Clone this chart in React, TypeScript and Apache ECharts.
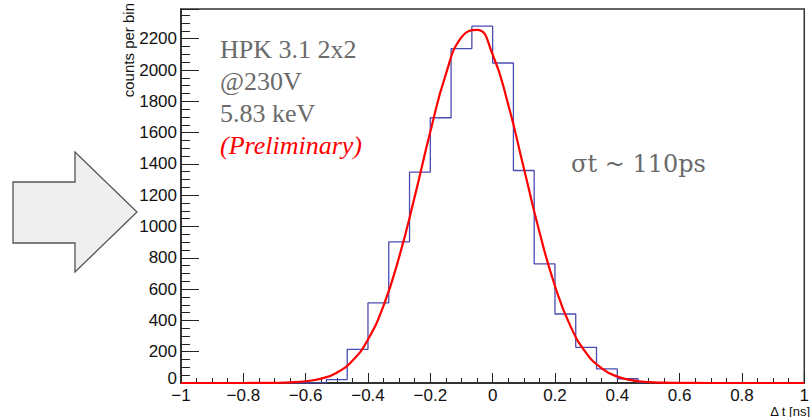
import React, { useEffect, useRef } from "react";
import * as echarts from "echarts";

// Histogram: 30 bins over [-1, 1]
const binMin = -1;
const binMax = 1;
const binCounts = [
  0, 0, 0, 0, 0, 0, 2, 22, 215, 512, 902, 1347, 1695, 2137, 2280,
  2045, 1358, 761, 441, 228, 90, 27, 2, 0, 0, 0, 0, 0, 0, 0,
];

// Fitted curve points
const curveX = [
  -1, -0.9, -0.8, -0.75, -0.7, -0.65, -0.6, -0.55, -0.5, -0.45, -0.4, -0.35,
  -0.3, -0.25, -0.2, -0.15, -0.1, -0.05, 0, 0.05, 0.1, 0.15, 0.2, 0.25, 0.3,
  0.35, 0.4, 0.45, 0.5, 0.55, 0.6, 0.7, 0.8, 0.9, 1,
];
const curveY = [
  0, 0, 0.1, 0.4, 1.2, 3.8, 11, 28, 66, 142, 278, 495, 805, 1191, 1606, 1974,
  2211, 2257, 2099, 1779, 1374, 967, 620, 362, 193, 94, 41, 17, 6, 2, 0.6, 0.1,
  0, 0, 0,
];

const yMax = 2390;
const infoLines = ["HPK 3.1 2x2", "@230V", "5.83 keV"];
const prelimText = "(Preliminary)";
const sigmaText = "σt ~ 110ps";
const yTitle = "counts per bin";
const xTitle = "Δ t [ns]";

export default function App() {
  const ref = useRef<HTMLDivElement>(null);
  useEffect(() => {
    if (!ref.current) return;
    const chart = echarts.init(ref.current, null, { renderer: "svg" });
    const n = binCounts.length;
    const w = (binMax - binMin) / n;
    const histData: number[][] = binCounts.map((c, i) => [binMin + i * w, c]);
    histData.push([binMax, binCounts[n - 1]]);
    const curveData = curveX.map((x, i) => [x, curveY[i]]);
    const fmtX = (v: number) => {
      const s = String(parseFloat(Math.abs(v).toFixed(1)));
      return v < -1e-9 ? "\u2212" + s : s;
    };
    const serif = "Liberation Serif";
    chart.setOption({
      animation: false,
      grid: {
        left: 181,
        right: 4,
        top: 9,
        bottom: 34,
        show: true,
        borderColor: "#333",
        borderWidth: 1.5,
      },
      xAxis: {
        type: "value",
        min: -1,
        max: 1,
        interval: 0.2,
        axisLine: { onZero: false, lineStyle: { color: "#222", width: 1.5 } },
        axisTick: { inside: true, length: 10, lineStyle: { color: "#222" } },
        minorTick: { show: true, splitNumber: 4, length: 5, lineStyle: { color: "#222" } },
        splitLine: { show: false },
        axisLabel: {
          formatter: fmtX,
          fontFamily: "Liberation Sans",
          fontSize: 17,
          color: "#111",
          margin: 4,
        },
      },
      yAxis: {
        type: "value",
        min: 0,
        max: yMax,
        interval: 200,
        axisLine: { show: true, onZero: false, lineStyle: { color: "#222", width: 1.5 } },
        axisTick: { inside: true, length: 18, lineStyle: { color: "#222" } },
        minorTick: { show: true, splitNumber: 4, length: 9, lineStyle: { color: "#222" } },
        splitLine: { show: false },
        axisLabel: {
          formatter: (v: number) => String(v),
          fontFamily: "Liberation Sans",
          fontSize: 17,
          lineHeight: 10,
          verticalAlignMinLabel: "bottom",
          color: "#111",
          margin: 4,
          showMaxLabel: false,
        },
      },
      series: [
        {
          type: "line",
          step: "end",
          data: histData,
          showSymbol: false,
          lineStyle: { color: "#4b4bb4", width: 1.3 },
          z: 2,
        },
        {
          type: "line",
          smooth: true,
          data: curveData,
          showSymbol: false,
          lineStyle: { color: "#ff0000", width: 2.2 },
          z: 3,
        },
      ],
      graphic: [
        {
          type: "polygon",
          shape: {
            points: [
              [13, 182],
              [75, 182],
              [75, 152],
              [137, 212],
              [75, 272],
              [75, 243],
              [13, 243],
            ],
          },
          style: { fill: "#efefef", stroke: "#555", lineWidth: 1.3 },
        },
        ...infoLines.map((t, i) => ({
          type: "text",
          x: 220,
          y: 49.5 + i * 32,
          style: {
            text: t,
            fontFamily: serif,
            fontSize: 26,
            fill: "#6a6a6a",
            align: "left",
            verticalAlign: "middle",
          },
        })),
        {
          type: "text",
          x: 220,
          y: 145,
          style: {
            text: prelimText,
            fontFamily: serif,
            fontSize: 26,
            fontStyle: "italic",
            fill: "#ff0000",
            align: "left",
            verticalAlign: "middle",
          },
        },
        {
          type: "text",
          x: 571,
          y: 164,
          style: {
            text: sigmaText,
            fontFamily: "DejaVu Serif",
            fontSize: 24,
            fill: "#6a6a6a",
            align: "left",
            verticalAlign: "middle",
          },
        },
        {
          type: "text",
          x: 128,
          y: 3,
          rotation: Math.PI / 2,
          style: {
            text: yTitle,
            fontFamily: "Liberation Sans",
            fontSize: 15,
            fill: "#111",
            align: "right",
            verticalAlign: "middle",
          },
        },
        {
          type: "text",
          x: 810,
          y: 411,
          style: {
            text: xTitle,
            fontFamily: "Liberation Sans",
            fontSize: 13,
            fill: "#111",
            align: "right",
            verticalAlign: "middle",
          },
        },
      ],
    });
    return () => chart.dispose();
  }, []);
  return (
    <div
      ref={ref}
      style={{ position: "fixed", left: 0, top: 0, width: 812, height: 417, background: "#fff" }}
    />
  );
}
